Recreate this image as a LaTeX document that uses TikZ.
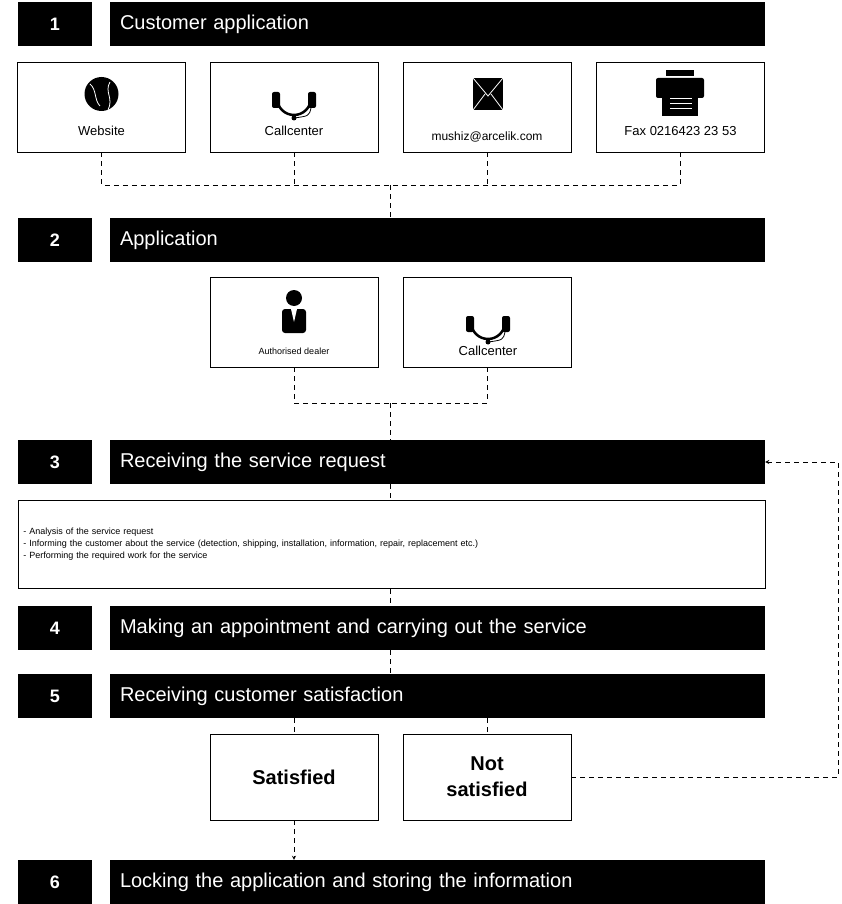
\documentclass[tikz,border=0pt]{standalone}
\usepackage{fontspec}
\setmainfont{Liberation Sans}
\usetikzlibrary{positioning}
\tikzset{
  num/.style={fill=black,text=white,minimum width=74pt,minimum height=44pt,font=\fontsize{18}{20}\selectfont\bfseries},
  bar/.style={fill=black,text=white,minimum width=655pt,minimum height=44pt,text width=635pt,align=left,font=\fontsize{20}{22}\selectfont},
  card/.style={draw,thick,minimum width=168pt,minimum height=90pt},
  lbl/.style={font=\fontsize{13}{15}\selectfont},
  link/.style={draw,thick,dash pattern=on 5pt off 4pt},
}
\begin{document}
\begin{tikzpicture}[x=1pt,y=-1pt]
  \useasboundingbox (0,0) rectangle (842,904);

  % step 1
  \node[num] (n1) at (55,24) {1};
  \node[bar] (b1) at (437.5,24) {Customer application};
  \node[card] (web)  at (101.5,107) {};
  \node[card] (call) at (294,107) {};
  \node[card] (mail) at (487,107) {};
  \node[card] (fax)  at (680.5,107) {};
  \node[lbl] at (101.5,131) {Website};
  \node[lbl] at (294,131) {Callcenter};
  \node[lbl,font=\fontsize{12}{14}\selectfont] at (487,137) {mushiz@arcelik.com};
  \node[lbl] at (680.5,131) {Fax 0216423 23 53};
  % icons
  \fill (101.5,94) circle (17);
  \draw[white,thick] (90,84) .. controls (97,90) and (94,100) .. (100,106);
  \draw[white,thick] (110,82) .. controls (104,92) and (114,98) .. (108,110);
  \foreach \cx/\cy in {294/94,488/318}{
    \draw[line width=2.5pt] (\cx-17,\cy+4) arc (180:0:17);
    \fill[rounded corners=2pt] (\cx-22,\cy-2) rectangle (\cx-14,\cy+14);
    \fill[rounded corners=2pt] (\cx+14,\cy-2) rectangle (\cx+22,\cy+14);
    \draw[thick] (\cx+17,\cy+14) .. controls (\cx+15,\cy+22) .. (\cx,\cy+24);
    \fill (\cx,\cy+24) circle (2.5);
  }
  \fill (473,78) rectangle (503,110);
  \draw[white,thick] (473,78) -- (488,96) -- (503,78) (473,110) -- (485,94) (503,110) -- (491,94);
  \fill (666,70) rectangle (694,76);
  \fill[rounded corners=2pt] (656,78) rectangle (704,98);
  \fill (662,92) rectangle (698,116);
  \foreach \ly in {98,103,108} \draw[white,thick] (670,\ly) -- (692,\ly);

  % step 2
  \node[num] (n2) at (55,240) {2};
  \node[bar] (b2) at (437.5,240) {Application};
  \node[card] (dealer) at (294,322) {};
  \node[card] (call2)  at (487,322) {};
  \node[font=\fontsize{9}{11}\selectfont] at (294,351) {Authorised dealer};
  \node[lbl] at (488,351) {Callcenter};
  \fill (294,298) circle (8);
  \fill[rounded corners=3pt] (282,309) rectangle (306,333);
  \fill[white] (291,309) -- (297,309) -- (294,322) -- cycle;

  % step 3
  \node[num] (n3) at (55,462) {3};
  \node[bar] (b3) at (437.5,462) {Receiving the service request};
  \node[draw,thick,minimum width=747pt,minimum height=88pt,text width=737pt,align=left,anchor=north west,
        font=\fontsize{9}{12}\selectfont] (tasks) at (18,500) {- Analysis of the service request\\
  - Informing the customer about the service (detection, shipping, installation, information, repair, replacement etc.)\\
  - Performing the required work for the service\\[14pt]};

  % step 4, 5
  \node[num] (n4) at (55,628) {4};
  \node[bar] (b4) at (437.5,628) {Making an appointment and carrying out the service};
  \node[num] (n5) at (55,696) {5};
  \node[bar] (b5) at (437.5,696) {Receiving customer satisfaction};
  \node[card,minimum height=86pt,align=center,font=\fontsize{20}{26}\selectfont\bfseries] (sat) at (294,777) {Satisfied};
  \node[card,minimum height=86pt,align=center,font=\fontsize{20}{26}\selectfont\bfseries] (notsat) at (487,777) {Not\\satisfied};

  % step 6
  \node[num] (n6) at (55,882) {6};
  \node[bar] (b6) at (437.5,882) {Locking the application and storing the information};

  % connectors
  \coordinate (j1) at (390,185);
  \coordinate (j2) at (390,403);
  \coordinate (r) at (838,777);
  \draw[link] (web.south) |- (j1) (fax.south) |- (j1);
  \draw[link] (call.south) -- (call.south |- j1) (mail.south) -- (mail.south |- j1);
  \draw[link] (j1) -- (j1 |- b2.north);
  \draw[link] (dealer.south) |- (j2) (call2.south) |- (j2);
  \draw[link] (j2) -- (j2 |- b3.north);
  \draw[link] (b3.south -| j2) -- (tasks.north -| j2);
  \draw[link] (tasks.south -| j2) -- (b4.north -| j2);
  \draw[link] (b4.south -| j2) -- (b5.north -| j2);
  \draw[link] (b5.south -| sat) -- (sat.north);
  \draw[link] (b5.south -| notsat) -- (notsat.north);
  \draw[link,-stealth] (notsat.east) -- (r) |- (b3.east);
  \draw[link,-stealth] (sat.south) -- (sat.south |- b6.north);
\end{tikzpicture}
\end{document}
